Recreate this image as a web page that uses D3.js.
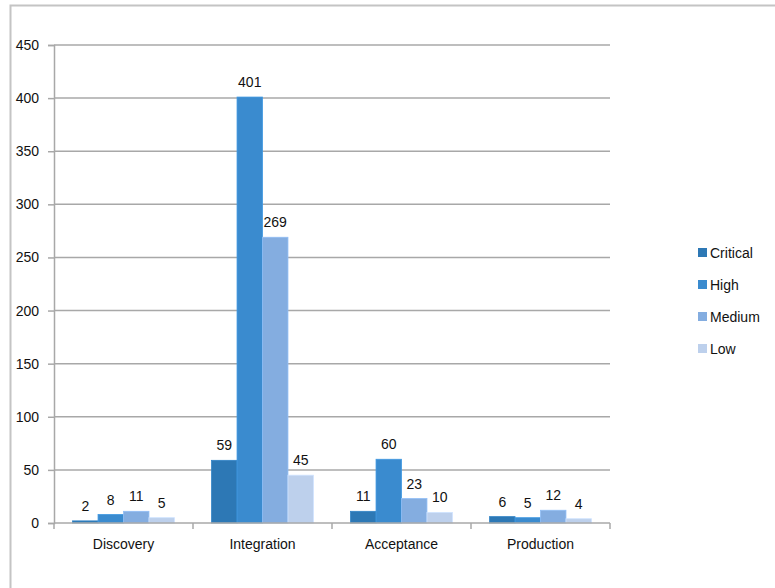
<!DOCTYPE html>
<html>
<head>
<meta charset="utf-8">
<script src="https://cdn.jsdelivr.net/npm/d3@7"></script>
<style>
  html, body { margin: 0; padding: 0; background: #fff; }
  svg { display: block; font-family: "Liberation Sans", Arial, sans-serif; }
</style>
</head>
<body>
<svg id="chart" width="775" height="588"></svg>
<script>
// Defect counts by phase and severity
const categories = ["Discovery", "Integration", "Acceptance", "Production"];
const series = ["Critical", "High", "Medium", "Low"];
const critical = [2, 59, 11, 6];
const high = [8, 401, 60, 5];
const medium = [11, 269, 23, 12];
const low = [5, 45, 10, 4];
const yTicks = [0, 50, 100, 150, 200, 250, 300, 350, 400, 450];
const colors = ["#2D78B5", "#3A8BCF", "#84ADE0", "#BDD0EC"];

const valuesBySeries = [critical, high, medium, low];
const rows = categories.map((c, i) => ({
  category: c,
  values: series.map((s, j) => ({ series: s, value: valuesBySeries[j][i], color: colors[j] }))
}));

const svg = d3.select("#chart");
const gridColor = "#A8A8A8";

// Outer frame
svg.append("rect")
  .attr("x", 10.5).attr("y", 5.5)
  .attr("width", 800).attr("height", 620)
  .attr("fill", "none").attr("stroke", "#C4C4C4").attr("stroke-width", 2);

const plotLeft = 54, plotRight = 610, plotTop = 45, plotBottom = 523;

const x = d3.scaleBand().domain(categories).range([plotLeft, plotRight]).padding(0);
const x1 = d3.scaleBand().domain(series).range([0, x.bandwidth()])
  .paddingInner(0).paddingOuter(0.73);
const y = d3.scaleLinear().domain([0, 450]).range([plotBottom, plotTop]);

// Horizontal gridlines
svg.append("g")
  .selectAll("line")
  .data(yTicks.filter(t => t > 0))
  .join("line")
  .attr("x1", plotLeft).attr("x2", plotRight)
  .attr("y1", d => y(d)).attr("y2", d => y(d))
  .attr("stroke", gridColor).attr("stroke-width", 1.5);

// Y axis
const yAxis = svg.append("g")
  .attr("transform", `translate(${plotLeft},0)`)
  .call(d3.axisLeft(y).tickValues(yTicks).tickSize(6).tickPadding(9));
yAxis.select(".domain").attr("stroke", gridColor).attr("stroke-width", 1.5);
yAxis.selectAll(".tick line").attr("stroke", gridColor).attr("stroke-width", 1.5);
yAxis.selectAll(".tick text")
  .attr("font-size", 14).attr("fill", "#111")
  .attr("font-family", "Liberation Sans, Arial, sans-serif");

// Bars
const groups = svg.append("g")
  .selectAll("g")
  .data(rows)
  .join("g")
  .attr("transform", d => `translate(${x(d.category)},0)`);

groups.selectAll("rect")
  .data(d => d.values)
  .join("rect")
  .attr("x", d => x1(d.series))
  .attr("y", d => y(d.value))
  .attr("width", x1.bandwidth())
  .attr("height", d => y(0) - y(d.value))
  .attr("fill", d => d.color)
  .attr("stroke", d => d3.color(d.color).brighter(0.25))
  .attr("stroke-width", 0.8);

// Value labels
groups.selectAll("text")
  .data(d => d.values)
  .join("text")
  .attr("x", d => x1(d.series) + x1.bandwidth() / 2)
  .attr("y", d => y(d.value) - 10)
  .attr("text-anchor", "middle")
  .attr("font-size", 14)
  .attr("fill", "#111")
  .text(d => d.value);

// X axis
const xAxis = svg.append("g")
  .attr("transform", `translate(0,${plotBottom})`)
  .call(d3.axisBottom(x).tickSize(0).tickPadding(16));
xAxis.select(".domain").remove();
xAxis.append("line")
  .attr("x1", plotLeft).attr("x2", plotRight)
  .attr("stroke", gridColor).attr("stroke-width", 1.5);
xAxis.selectAll(".tick text")
  .attr("font-size", 14).attr("fill", "#111")
  .attr("font-family", "Liberation Sans, Arial, sans-serif");
// Category separators
xAxis.append("g")
  .selectAll("line")
  .data(categories.map(c => x(c)).concat([plotRight]))
  .join("line")
  .attr("x1", d => d).attr("x2", d => d)
  .attr("y1", 0).attr("y2", 6)
  .attr("stroke", gridColor).attr("stroke-width", 1.5);

// Legend
const legend = svg.append("g").attr("transform", "translate(698,253)");
const items = legend.selectAll("g")
  .data(series)
  .join("g")
  .attr("transform", (d, i) => `translate(0,${i * 32})`);
items.append("rect")
  .attr("x", 0).attr("y", -5)
  .attr("width", 9).attr("height", 9)
  .attr("fill", (d, i) => colors[i]);
items.append("text")
  .attr("x", 12).attr("y", 0)
  .attr("dy", "0.35em")
  .attr("font-size", 14)
  .attr("fill", "#111")
  .text(d => d);
</script>
</body>
</html>
